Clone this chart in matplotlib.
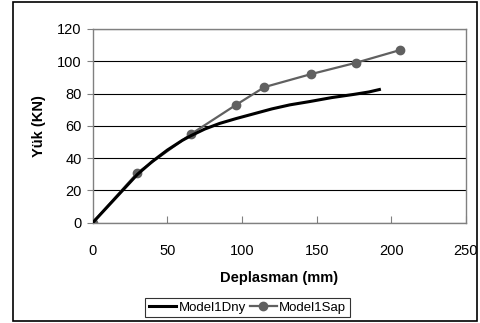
import matplotlib
matplotlib.use("Agg")
import matplotlib.pyplot as plt
from matplotlib.patches import Rectangle

dny_x = [0, 5, 10, 15, 20, 25, 30, 40, 50, 60, 66, 75, 85, 96, 110, 120, 132, 145, 160, 175, 185, 192]
dny_y = [0, 5, 10, 15, 20, 25, 30, 38, 45, 51, 54, 58, 61.5, 64.5, 68, 70.5, 73, 75, 77.5, 79.5, 81, 82.5]
sap_x = [0, 30, 66, 96, 115, 146, 176, 206]
sap_y = [0, 31, 55, 73, 84, 92, 99, 107]
xticks = [0, 50, 100, 150, 200, 250]
yticks = [0, 20, 40, 60, 80, 100, 120]

plt.rcParams['font.family'] = ['Liberation Sans', 'DejaVu Sans']
fig = plt.figure(figsize=(4.8, 3.23), dpi=100)
W, H = 480, 323
ax = fig.add_axes([92.7/W, 1-222.7/H, (466-92.7)/W, (222.7-29)/H])

ax.plot(dny_x, dny_y, color='black', lw=2.2, label='Model1Dny', zorder=3)
ax.plot(sap_x, sap_y, color='#606060', lw=1.6, marker='o', ms=6, label='Model1Sap', zorder=2)

ax.set_xlim(0, 250)
ax.set_ylim(0, 120)
ax.set_xticks(xticks)
ax.set_yticks(yticks)
ax.yaxis.grid(True, color='black', lw=0.8)
ax.set_axisbelow(True)
for s in ['top', 'right', 'left', 'bottom']:
    ax.spines[s].set_color('#808080')
    ax.spines[s].set_linewidth(1.0)
ax.tick_params(axis='x', direction='in', length=5, color='#808080', labelsize=10.5, pad=15)
ax.tick_params(axis='y', direction='out', length=4, color='#808080', labelsize=10.5, pad=4)
ax.set_xlabel('Deplasman (mm)', fontsize=10.5, fontweight='bold', labelpad=10)
ax.set_ylabel('Yük (KN)', fontsize=10.5, fontweight='bold', labelpad=8)

leg = fig.legend(loc='center', bbox_to_anchor=(247.5/W, 1-307.5/H), bbox_transform=fig.transFigure,
                 ncol=2, frameon=True, fancybox=False, edgecolor='black', fontsize=9.5,
                 handlelength=2.1, columnspacing=0.3, handletextpad=0.15, borderpad=0.25)
leg.get_frame().set_linewidth(0.8)

fig.patches.append(Rectangle((13/W, 2/H), (477-13)/W, (321-2)/H, transform=fig.transFigure,
                             fill=False, edgecolor='black', lw=1.2))
fig.savefig('out.png', dpi=100)
